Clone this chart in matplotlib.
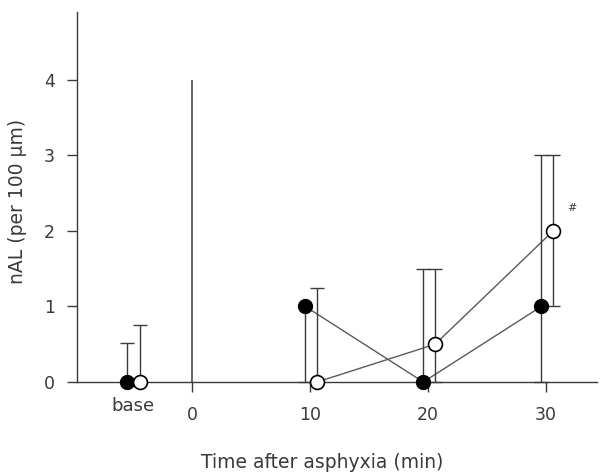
import numpy as np
import matplotlib.pyplot as plt

plt.rcParams['font.family'] = ['DejaVu Sans']

# group positions (min), base drawn at -5
pos_filled = np.array([-5.5, 9.6, 19.6, 29.6])
pos_open = np.array([-4.4, 10.6, 20.6, 30.6])

y_filled = np.array([0.0, 1.0, 0.0, 1.0])
err_filled_lo = np.array([0.0, 1.0, 0.0, 1.0])
err_filled_hi = np.array([0.52, 0.0, 1.5, 2.0])

y_open = np.array([0.0, 0.0, 0.5, 2.0])
err_open_lo = np.array([0.0, 0.0, 0.5, 1.0])
err_open_hi = np.array([0.75, 1.25, 1.0, 1.0])

tick_pos = [0, 10, 20, 30]
tick_labels = ['0', '10', '20', '30']
ytick_pos = [0, 1, 2, 3, 4]

ink = '#3a3a3a'
line_col = '#5a5a5a'

fig = plt.figure(figsize=(6.04, 4.73), dpi=100)
ax = fig.add_axes([0.1275, 0.1924, 0.8605, 0.7822])

# asphyxia marker line at time 0
ax.vlines(0, 0, 4, color=ink, lw=1.1)

# connecting lines (no line to base)
ax.plot(pos_filled[1:], y_filled[1:], color=line_col, lw=1.0, zorder=2)
ax.plot(pos_open[1:], y_open[1:], color=line_col, lw=1.0, zorder=2)

# error bars
ax.errorbar(pos_filled, y_filled, yerr=[err_filled_lo, err_filled_hi], fmt='none',
            ecolor=ink, elinewidth=1.0, capsize=5, capthick=1.0, clip_on=False, zorder=3)
ax.errorbar(pos_open, y_open, yerr=[err_open_lo, err_open_hi], fmt='none',
            ecolor=ink, elinewidth=1.0, capsize=5, capthick=1.0, clip_on=False, zorder=3)

ax.plot(pos_filled, y_filled, 'o', ms=10, mfc='black', mec='black', mew=1.0,
        ls='none', clip_on=False, zorder=4)
ax.plot(pos_open, y_open, 'o', ms=10, mfc='white', mec='black', mew=1.2,
        ls='none', clip_on=False, zorder=4)

ax.text(32.2, 2.3, '#', fontsize=8, style='italic', color=ink, ha='center', va='center')

ax.set_xlim(-9.75, 34.3)
ax.set_ylim(0, 4.9)

ax.set_xticks(tick_pos)
ax.set_xticklabels(tick_labels)
ax.set_yticks(ytick_pos)
ax.tick_params(axis='both', direction='out', length=7, width=1.0, color=ink,
               labelcolor=ink, labelsize=12.5)
ax.tick_params(axis='x', pad=10)
ax.tick_params(axis='y', pad=9)

ax.text(-5, -0.2, 'base', fontsize=13, color=ink, ha='center', va='top')

for s in ['top', 'right']:
    ax.spines[s].set_visible(False)
for s in ['left', 'bottom']:
    ax.spines[s].set_color(ink)
    ax.spines[s].set_linewidth(1.0)

ax.set_xlabel('Time after asphyxia (min)', fontsize=13.5, color=ink)
ax.set_ylabel('nAL (per 100 µm)', fontsize=13.5, color=ink)
ax.xaxis.set_label_coords(0.471, -0.192)
ax.yaxis.set_label_coords(-0.096, 0.489)

fig.savefig('out.png', dpi=100)
